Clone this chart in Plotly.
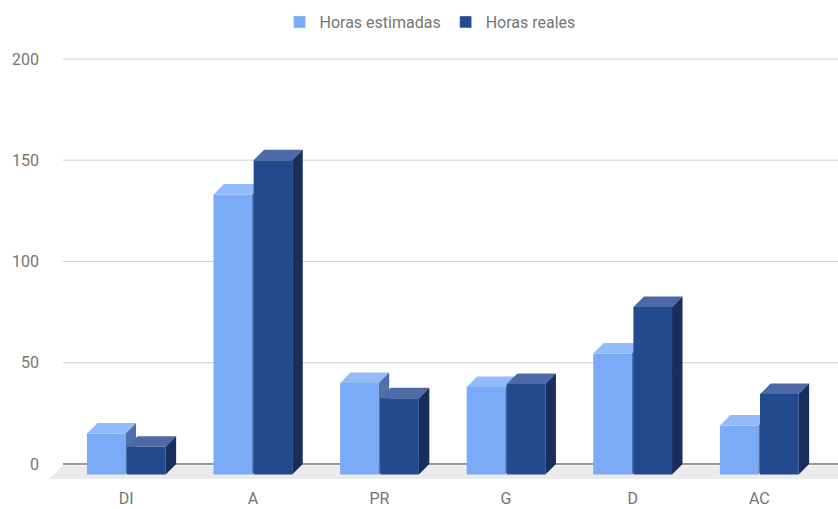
import plotly.graph_objects as go

# ---- data ----
categories = ["DI", "A", "PR", "G", "D", "AC"]
horas_estimadas = [15, 133, 40, 38, 54.5, 19]
horas_reales = [8.5, 150, 32.5, 39.5, 77.5, 34.5]
series_names = ["Horas estimadas", "Horas reales"]
y_ticks = [0, 50, 100, 150, 200]

# ---- styling / geometry ----
PX_Y = 2.025          # px per y unit
PX_X = 126.6          # px per category
DEPTH = 10.5          # 3D depth in px
DY = DEPTH / PX_Y
DX = DEPTH / PX_X
BAR_W = 0.305
GAP = 0.006
X_RANGE = [-0.642, 5.622]
Y_RANGE = [-9.88, 204.4]

colors = {
    "Horas estimadas": dict(front="#7BAAF7", top="#93BAF9", side="#5070AA"),
    "Horas reales": dict(front="#224A8F", top="#4D69A6", side="#182F5E"),
}
FONT = "Roboto, Arial, sans-serif"
TXT = "#757575"

fig = go.Figure()

# floor
fl_back = -0.8
fl_front = -7.4
fx0 = -0.5
fx1 = X_RANGE[1] + 0.05
fig.add_trace(go.Scatter(
    x=[fx0, fx1, fx1, fx0 - 14 / PX_X, fx0],
    y=[fl_back, fl_back, fl_front, fl_front, fl_back],
    mode="lines", fill="toself", fillcolor="#EBEBEB",
    line=dict(width=0), hoverinfo="skip", showlegend=False))


def faces(values, left_offset):
    fx, fy, tx, ty, sx, sy = [], [], [], [], [], []
    for i, v in enumerate(values):
        x0 = i + left_offset
        x1 = x0 + BAR_W
        b = -DY
        # front
        fx += [x0, x1, x1, x0, x0, None]
        fy += [b, b, v, v, b, None]
        # top
        tx += [x0, x1, x1 + DX, x0 + DX, x0, None]
        ty += [v, v, v + DY, v + DY, v, None]
        # side
        sx += [x1, x1 + DX, x1 + DX, x1, x1, None]
        sy += [b, b + DY, v + DY, v, b, None]
    return (fx, fy), (tx, ty), (sx, sy)


for name, vals, off in [
    (series_names[0], horas_estimadas, -BAR_W - GAP),
    (series_names[1], horas_reales, GAP),
]:
    c = colors[name]
    front, top, side = faces(vals, off)
    for (xs, ys), col in [(front, c["front"]), (top, c["top"]), (side, c["side"])]:
        fig.add_trace(go.Scatter(
            x=xs, y=ys, mode="lines", fill="toself", fillcolor=col,
            line=dict(width=0, color=col), hoverinfo="skip", showlegend=False))

# legend entries
for name in series_names:
    fig.add_trace(go.Bar(x=[None], y=[None], name=name,
                         marker=dict(color=colors[name]["front"]), showlegend=True))

# gridlines
shapes = []
for t in y_ticks:
    shapes.append(dict(
        type="line", xref="x", yref="y", x0=-0.5, x1=X_RANGE[1] + 0.05, y0=t, y1=t,
        line=dict(color="#333333" if t == 0 else "#CCCCCC", width=1),
        layer="below"))

fig.update_layout(
    width=838, height=509,
    margin=dict(l=45, r=0, t=50, b=25),
    plot_bgcolor="white", paper_bgcolor="white",
    font=dict(family=FONT, size=16, color=TXT),
    shapes=shapes,
    showlegend=True,
    legend=dict(orientation="h", x=0.4855, xanchor="center", y=1.0645, yanchor="middle",
                font=dict(family=FONT, size=16, color=TXT), bgcolor="rgba(0,0,0,0)"),
    xaxis=dict(range=X_RANGE, tickvals=list(range(len(categories))), ticktext=categories,
               showgrid=False, zeroline=False, showline=False, ticks="",
               ticklabelstandoff=3, fixedrange=True),
    yaxis=dict(range=Y_RANGE, tickvals=y_ticks, showgrid=False, zeroline=False,
               showline=False, ticks="", ticklabelstandoff=5, fixedrange=True),
)

fig.write_html("out.html")
